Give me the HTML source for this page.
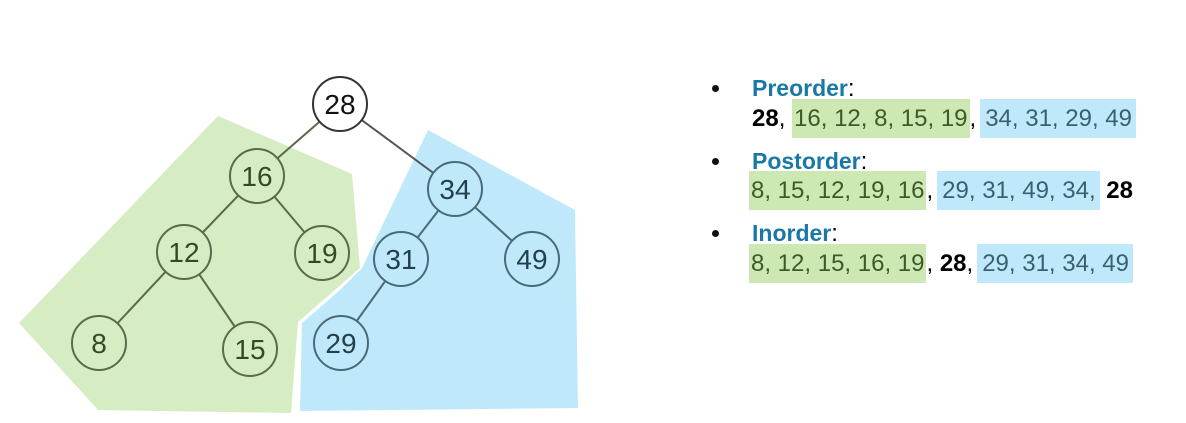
<!DOCTYPE html>
<html><head><meta charset="utf-8"><style>
body{margin:0;width:1186px;height:423px;background:#fff;overflow:hidden;position:relative;font-family:"Liberation Sans",sans-serif}
.t{position:absolute;font-size:24px;white-space:nowrap;line-height:26px}
.h{color:#1a78a6;font-weight:bold;font-size:23px}
.b{font-weight:bold;color:#000}
.g{background:#cde8b2;color:#3d5a2b;padding:6px 2px 6px 2px}
.u{background:#bfe9fb;color:#3a6070;padding:6px 4px 6px 5px;margin-left:4px}
.dot{position:absolute;left:712px;width:7px;height:7px;border-radius:50%;background:#111}
</style></head><body>
<svg width="1186" height="423" style="position:absolute;left:0;top:0">
<polygon points="218,116 352,174 360,268 298,322 291,413 98,410 19,323" fill="#d6ecc2"/>
<polygon points="428,130 575,210 578,408 300,411 302,323 340,290 362,268" fill="#bfe9fb"/>
<g id="edges" stroke="#555" stroke-width="2"></g>
<g id="nodes"></g>
</svg>
<script>
const keys=[28,16,12,19,8,15,34,31,49,29];
const cx=[340,257,184,322,99,250,455,401,532,341];
const cy=[104,176,252,253,343,349,189,259,259,343];
const parent=[-1,0,1,1,2,2,0,6,6,7];
const ns="http://www.w3.org/2000/svg";
const E=document.getElementById('edges'),N=document.getElementById('nodes');
keys.forEach((k,i)=>{if(parent[i]<0)return;const p=parent[i];const l=document.createElementNS(ns,'line');


l.setAttribute('x1',cx[p]);l.setAttribute('y1',cy[p]);l.setAttribute('x2',cx[i]);l.setAttribute('y2',cy[i]);
l.setAttribute('stroke',i<6?'#5a6a4a':(i==6?'#555':'#4a6a78'));E.appendChild(l);});
keys.forEach((k,i)=>{const g=document.createElementNS(ns,'g');


const fill=i==0?'#fff':(i<6?'#d6ecc2':'#bfe9fb');const st=i==0?'#333':(i<6?'#5a6a4a':'#4a6a78');
const c=document.createElementNS(ns,'ellipse');c.setAttribute('cx',cx[i]);c.setAttribute('cy',cy[i]);c.setAttribute('rx',27);c.setAttribute('ry',27);c.setAttribute('fill',fill);c.setAttribute('stroke',st);c.setAttribute('stroke-width',2);
const t=document.createElementNS(ns,'text');t.setAttribute('x',cx[i]);t.setAttribute('y',cy[i]+10);t.setAttribute('text-anchor','middle');t.setAttribute('font-size','28');t.setAttribute('font-family','Liberation Sans, sans-serif');t.setAttribute('fill',i==0?'#111':(i<6?'#344a26':'#22404c'));t.textContent=k;
g.appendChild(c);g.appendChild(t);N.appendChild(g);});
</script>
<div class="dot" style="top:85px"></div>
<div class="t" style="left:752px;top:75px"><span class="h">Preorder</span>:</div>
<div class="t" style="left:752px;top:106px"><span class="b">28</span>, <span class="g">16, 12, 8, 15, 19</span>,<span class="u">34, 31, 29, 49</span></div>
<div class="dot" style="top:158px"></div>
<div class="t" style="left:752px;top:148px"><span class="h">Postorder</span>:</div>
<div class="t" style="left:749px;top:178px"><span class="g">8, 15, 12, 19, 16</span>,<span class="u">29, 31, 49, 34,</span> <span class="b">28</span></div>
<div class="dot" style="top:230px"></div>
<div class="t" style="left:752px;top:220px"><span class="h">Inorder</span>:</div>
<div class="t" style="left:749px;top:251px"><span class="g">8, 12, 15, 16, 19</span>, <span class="b">28</span>,<span class="u">29, 31, 34, 49</span></div>
</body></html>
